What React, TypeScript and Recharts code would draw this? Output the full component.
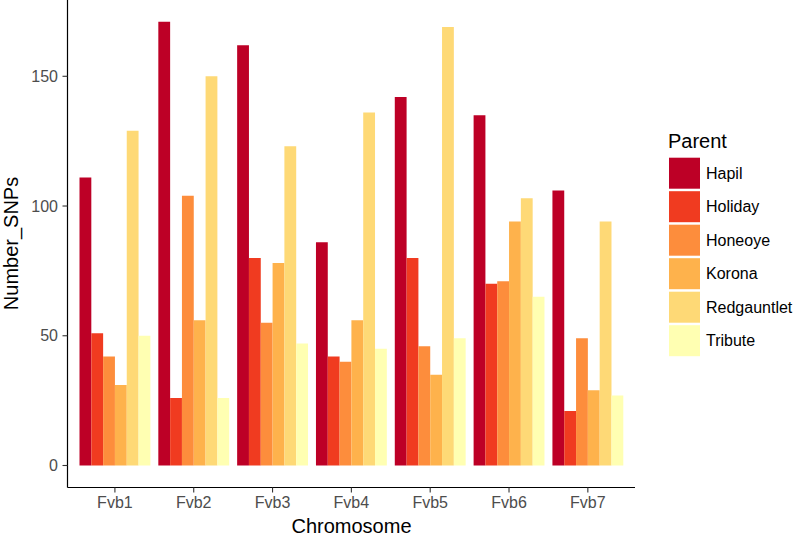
import { Bar, BarChart, Label, Legend, XAxis, YAxis } from "recharts";

const chromosomes = ["Fvb1", "Fvb2", "Fvb3", "Fvb4", "Fvb5", "Fvb6", "Fvb7"];
const parents = ["Hapil", "Holiday", "Honeoye", "Korona", "Redgauntlet", "Tribute"];
const parentColors = ["#BD0026", "#F03B20", "#FD8D3C", "#FEB24C", "#FED976", "#FFFFB2"];

const hapil = [111, 171, 162, 86, 142, 135, 106];
const holiday = [51, 26, 80, 42, 80, 70, 21];
const honeoye = [42, 104, 55, 40, 46, 71, 49];
const korona = [31, 56, 78, 56, 35, 94, 29];
const redgauntlet = [129, 150, 123, 136, 169, 103, 94];
const tribute = [50, 26, 47, 45, 49, 65, 27];

const yTicks = [0, 50, 100, 150];

const series = [hapil, holiday, honeoye, korona, redgauntlet, tribute];
const data = chromosomes.map((chrom, i) => {
  const row: Record<string, string | number> = { chrom };
  parents.forEach((p, j) => {
    row[p] = series[j][i];
  });
  return row;
});

const FONT = '"Liberation Sans", Arial, Helvetica, sans-serif';

function ParentLegend() {
  return (
    <svg width={137} height={250} style={{ fontFamily: FONT }}>
      <text x={8} y={27.7} fontSize={20} fill="#000">
        Parent
      </text>
      {parents.map((p, i) => (
        <g key={p}>
          <rect x={9} y={37.7 + i * 33.5} width={31} height={31} fill={parentColors[i]} />
          <text x={46} y={37.7 + i * 33.5 + 15.5} fontSize={16} fill="#000" dominantBaseline="central">
            {p}
          </text>
        </g>
      ))}
    </svg>
  );
}

export default function App() {
  return (
    <div style={{ position: "absolute", left: 0, top: 0, background: "#fff", fontFamily: FONT }}>
      <BarChart
        width={797}
        height={536}
        data={data}
        margin={{ top: 0, right: 162, bottom: 18.5, left: 0 }}
        barCategoryGap="5%"
        barGap={0}
      >
        <XAxis
          dataKey="chrom"
          height={30}
          padding={{ left: 8, right: 7.75 }}
          axisLine={{ stroke: "#000", strokeWidth: 1.2 }}
          tickLine={{ stroke: "#333", strokeWidth: 1.1 }}
          tickSize={5}
          tickMargin={4}
          tick={{ fill: "#4D4D4D", fontSize: 16, fontFamily: FONT }}
        >
          <Label
            content={() => (
              <text x={351.5} y={533} textAnchor="middle" fontSize={20} fill="#000" fontFamily={FONT}>
                Chromosome
              </text>
            )}
          />
        </XAxis>
        <YAxis
          width={67.5}
          domain={[-8.48, 179.4]}
          allowDataOverflow
          ticks={yTicks}
          axisLine={{ stroke: "#000", strokeWidth: 1.2 }}
          tickLine={{ stroke: "#333", strokeWidth: 1.1 }}
          tickSize={5}
          tickMargin={4.5}
          tick={{ fill: "#4D4D4D", fontSize: 16, fontFamily: FONT }}
        >
          <Label
            content={() => (
              <text
                x={18}
                y={243.5}
                transform="rotate(-90, 18, 243.5)"
                textAnchor="middle"
                fontSize={20}
                fill="#000"
                fontFamily={FONT}
              >
                Number_SNPs
              </text>
            )}
          />
        </YAxis>
        <Legend
          layout="vertical"
          align="center"
          verticalAlign="middle"
          content={() => <ParentLegend />}
          wrapperStyle={{ position: "absolute", left: 660, top: 120, width: 137, height: 250 }}
        />
        {parents.map((p, i) => (
          <Bar key={p} dataKey={p} fill={parentColors[i]} barSize={70.875 / 6} isAnimationActive={false} />
        ))}
      </BarChart>
    </div>
  );
}
